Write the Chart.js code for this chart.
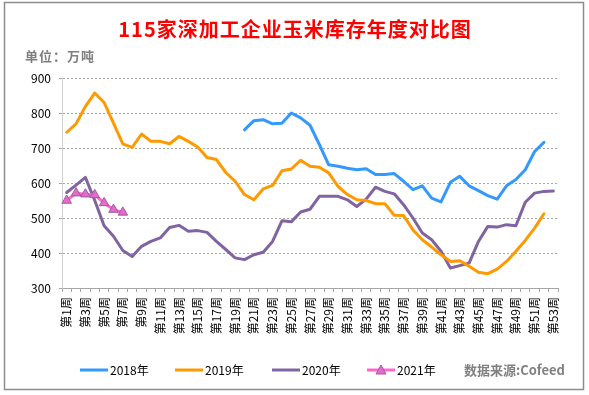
<!DOCTYPE html>
<html>
<head>
<meta charset="utf-8">
<script src="https://cdn.jsdelivr.net/npm/chart.js@4.4.0/dist/chart.umd.min.js"></script>
<style>
    html, body { margin: 0; padding: 0; background: #fff; }
    #wrap { width: 589px; height: 395px; }
</style>
</head>
<body>
<div id="wrap"><canvas id="inventoryChart" width="589" height="395"></canvas></div>
<script>
// weekly corn inventory of 115 deep processing firms (10k tonnes)
const weeks = Array.from({ length: 53 }, (_, i) => "第" + (i + 1) + "周");
const yTicks = [300, 400, 500, 600, 700, 800, 900];

const stock2018 = [null, null, null, null, null, null, null, null, null, null,
    null, null, null, null, null, null, null, null, null, 752,
    778, 781, 769, 771, 800, 786, 765, 710, 652, 648,
    642, 638, 641, 624, 624, 627, 605, 581, 592, 557,
    546, 602, 619, 592, 578, 564, 554, 592, 610, 638,
    690, 716, null];
const stock2019 = [745, 769, 819, 857, 830, 771, 712, 702, 740, 719,
    719, 712, 733, 719, 703, 673, 667, 630, 605, 567,
    552, 583, 593, 635, 640, 665, 648, 645, 629, 590,
    567, 552, 550, 541, 541, 508, 507, 466, 438, 417,
    395, 376, 378, 362, 345, 341, 354, 376, 405, 436,
    471, 512, null];
const stock2020 = [573, 594, 616, 550, 478, 448, 407, 390, 419, 433,
    443, 473, 479, 462, 464, 459, 433, 410, 386, 381,
    395, 402, 433, 492, 489, 517, 525, 562, 562, 562,
    552, 533, 554, 588, 576, 569, 538, 500, 457, 438,
    405, 357, 364, 371, 433, 476, 474, 481, 478, 545,
    571, 576, 577];
const stock2021 = [550, 571, 568, 566, 543, 524, 516];

const seriesNames = ["2018年", "2019年", "2020年", "2021年"];
const seriesColors = ["#3399FF", "#FF9900", "#8064A2", "#FF66CC"];

const FONT = '"Noto Sans CJK SC", "Noto Sans", sans-serif';

// title, unit, legend, source text and outer frame
const decorPlugin = {
    id: "decor",
    beforeDraw(chart) {
        const ctx = chart.ctx;
        ctx.save();
        ctx.fillStyle = "#fff";
        ctx.fillRect(0, 0, chart.width, chart.height);
        ctx.strokeStyle = "#8C8C8C";
        ctx.lineWidth = 1.5;
        ctx.strokeRect(4.5, 2.5, 579, 387);
        ctx.restore();
    },
    afterDraw(chart) {
        const ctx = chart.ctx;
        ctx.save();
        ctx.textBaseline = "middle";

        ctx.fillStyle = "#FF0000";
        ctx.textAlign = "center";
        ctx.font = "bold 20px " + FONT;
        ctx.letterSpacing = "1px";
        ctx.fillText("115家深加工企业玉米库存年度对比图", 295, 29);
        ctx.letterSpacing = "0px";

        ctx.textAlign = "left";
        ctx.fillStyle = "#7F7F7F";
        ctx.font = "bold 13px " + FONT;
        ctx.letterSpacing = "1px";
        ctx.fillText("单位：万吨", 25, 56);
        ctx.letterSpacing = "0px";

        // legend
        const legendX = [80, 175, 272, 367];
        const legendY = 370;
        ctx.font = "12px " + FONT;
        seriesNames.forEach((name, i) => {
            const x = legendX[i];
            ctx.strokeStyle = seriesColors[i];
            ctx.lineWidth = 3;
            ctx.beginPath();
            ctx.moveTo(x, legendY);
            ctx.lineTo(x + 28, legendY);
            ctx.stroke();
            if (i === 3) {
                ctx.fillStyle = "#E46BC8";
                ctx.strokeStyle = "#A05AA8";
                ctx.lineWidth = 1;
                ctx.beginPath();
                ctx.moveTo(x + 14, legendY - 5);
                ctx.lineTo(x + 19, legendY + 4);
                ctx.lineTo(x + 9, legendY + 4);
                ctx.closePath();
                ctx.fill();
                ctx.stroke();
            }
            ctx.fillStyle = "#000";
            ctx.fillText(name, x + 30, legendY);
        });

        ctx.fillStyle = "#808080";
        ctx.font = "bold 13px " + FONT;
        ctx.fillText("数据来源:Cofeed", 464, legendY);
        ctx.restore();
    }
};

const ctx = document.getElementById("inventoryChart").getContext("2d");
new Chart(ctx, {
    type: "line",
    data: {
        labels: weeks,
        datasets: [
            {
                label: seriesNames[3],
                data: stock2021,
                borderColor: seriesColors[3],
                borderWidth: 3,
                pointStyle: "triangle",
                pointRadius: 5.5,
                pointBackgroundColor: "#E46BC8",
                pointBorderColor: "#A05AA8",
                pointBorderWidth: 1,
                order: 0
            },
            {
                label: seriesNames[0],
                data: stock2018,
                borderColor: seriesColors[0],
                borderWidth: 3,
                pointRadius: 0,
                order: 1
            },
            {
                label: seriesNames[1],
                data: stock2019,
                borderColor: seriesColors[1],
                borderWidth: 3,
                pointRadius: 0,
                order: 2
            },
            {
                label: seriesNames[2],
                data: stock2020,
                borderColor: seriesColors[2],
                borderWidth: 3,
                pointRadius: 0,
                order: 3
            }
        ]
    },
    options: {
        responsive: false,
        animation: false,
        devicePixelRatio: 1,
        layout: { padding: { top: 78, right: 31, left: 0, bottom: 0 } },
        elements: { line: { tension: 0, borderJoinStyle: "round", borderCapStyle: "round" } },
        plugins: {
            legend: { display: false },
            title: { display: false },
            tooltip: { enabled: false }
        },
        scales: {
            x: {
                offset: true,
                grid: {
                    offset: true,
                    drawOnChartArea: false,
                    drawTicks: true,
                    tickLength: 4,
                    color: "#A6A6A6"
                },
                border: { color: "#A6A6A6", width: 1 },
                ticks: {
                    autoSkip: false,
                    minRotation: 90,
                    maxRotation: 90,
                    padding: 5,
                    color: "#000",
                    font: { size: 12, family: FONT },
                    callback: (value, index) => index % 2 === 0 ? weeks[index] : ""
                },
                afterFit: scale => { scale.height = 107; }
            },
            y: {
                min: yTicks[0],
                max: yTicks[yTicks.length - 1],
                afterBuildTicks: scale => { scale.ticks = yTicks.map(v => ({ value: v })); },
                grid: {
                    color: "#A6A6A6",
                    tickLength: 3
                },
                border: { color: "#D0D0D0", width: 1, dash: [2, 2] },
                ticks: {
                    padding: 8,
                    color: "#000",
                    font: { size: 12, family: FONT }
                },
                afterFit: scale => { scale.width = 62; }
            }
        }
    },
    plugins: [decorPlugin]
});
</script>
</body>
</html>
